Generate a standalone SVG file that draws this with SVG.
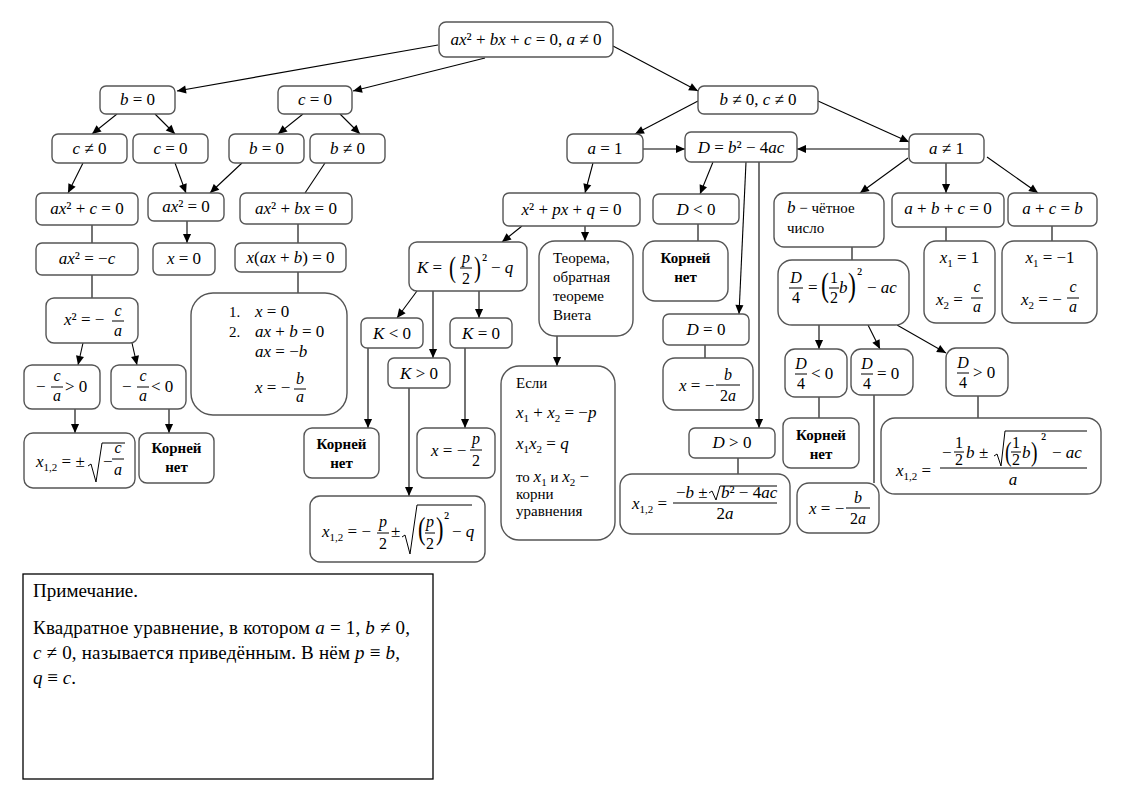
<svg xmlns="http://www.w3.org/2000/svg" width="1126" height="796" viewBox="0 0 1126 796">
<defs>
<marker id="ar" viewBox="0 0 10 10" refX="10" refY="5" markerWidth="10" markerHeight="9" markerUnits="userSpaceOnUse" orient="auto"><path d="M0,0.5 L10,5 L0,9.5 z" fill="#000"/></marker>
<style>
text{font-family:"Liberation Serif","DejaVu Serif",serif;font-size:17px;fill:#000}
.i{font-style:italic}
.m{text-anchor:middle}
.s{font-size:11px}
.f{font-size:16px}
.b{font-weight:bold;font-size:15px}
.t{font-size:15px}
.nt{font-size:19px}
.n rect{fill:#fff;stroke:#555;stroke-width:1.4}
.fb{stroke:#000;stroke-width:1}
.rad{fill:none;stroke:#000;stroke-width:1}
.e line{stroke:#000;stroke-width:1.1;fill:none}
.a{marker-end:url(#ar)}
</style>
</defs>
<rect x="0" y="0" width="1126" height="796" fill="#fff"/>
<g class="e" id="connectors">
<line class="a" x1="438" y1="45" x2="177" y2="91"/>
<line class="a" x1="485" y1="58" x2="353" y2="91"/>
<line class="a" x1="613" y1="46" x2="698" y2="91"/>
<line class="a" x1="117" y1="114" x2="92" y2="134"/>
<line class="a" x1="155" y1="114" x2="175" y2="134"/>
<line class="a" x1="303" y1="114" x2="278" y2="134"/>
<line class="a" x1="340" y1="114" x2="360" y2="134"/>
<line class="a" x1="83" y1="163" x2="68" y2="193"/>
<line class="a" x1="175" y1="163" x2="186" y2="193"/>
<line class="a" x1="242" y1="163" x2="210" y2="193"/>
<line x1="325" y1="163" x2="305" y2="193"/>
<line x1="92" y1="225" x2="92" y2="243"/>
<line class="a" x1="187" y1="221" x2="187" y2="243"/>
<line x1="298" y1="224" x2="298" y2="243"/>
<line x1="92" y1="275" x2="92" y2="298"/>
<line x1="298" y1="272" x2="298" y2="293"/>
<line class="a" x1="83" y1="343" x2="78" y2="365"/>
<line class="a" x1="132" y1="343" x2="137" y2="365"/>
<line class="a" x1="75" y1="409" x2="75" y2="433"/>
<line class="a" x1="169" y1="409" x2="169" y2="433"/>
<line class="a" x1="698" y1="101" x2="635" y2="134"/>
<line class="a" x1="818" y1="101" x2="909" y2="142"/>
<line class="a" x1="643" y1="149" x2="685" y2="149"/>
<line class="a" x1="909" y1="149" x2="797" y2="149"/>
<line class="a" x1="593" y1="163" x2="585" y2="193"/>
<line class="a" x1="713" y1="162" x2="700" y2="194"/>
<line class="a" x1="746" y1="162" x2="739" y2="314"/>
<line class="a" x1="759" y1="162" x2="759" y2="428"/>
<line x1="698" y1="224" x2="698" y2="241"/>
<line x1="705" y1="345" x2="705" y2="358"/>
<line x1="738" y1="458" x2="738" y2="474"/>
<line class="a" x1="522" y1="226" x2="502" y2="242"/>
<line class="a" x1="585" y1="226" x2="585" y2="241"/>
<line class="a" x1="417" y1="291" x2="397" y2="318"/>
<line class="a" x1="433" y1="291" x2="433" y2="358"/>
<line class="a" x1="479" y1="291" x2="479" y2="318"/>
<line class="a" x1="368" y1="348" x2="368" y2="428"/>
<line class="a" x1="465" y1="348" x2="465" y2="428"/>
<line class="a" x1="409" y1="388" x2="409" y2="496"/>
<line class="a" x1="557" y1="336" x2="557" y2="366"/>
<line class="a" x1="908" y1="158" x2="860" y2="193"/>
<line class="a" x1="946" y1="163" x2="946" y2="193"/>
<line class="a" x1="987" y1="157" x2="1038" y2="193"/>
<line x1="852" y1="247" x2="852" y2="260"/>
<line x1="946" y1="227" x2="946" y2="241"/>
<line x1="1052" y1="226" x2="1052" y2="241"/>
<line class="a" x1="819" y1="325" x2="819" y2="349"/>
<line class="a" x1="868" y1="325" x2="880" y2="349"/>
<line class="a" x1="897" y1="325" x2="946" y2="353"/>
<line x1="819" y1="397" x2="819" y2="418"/>
<line x1="874" y1="395" x2="874" y2="483"/>
<line x1="978" y1="396" x2="978" y2="418"/>
</g>

<g class="n" id="n_root"><rect x="439" y="22" width="174" height="35" rx="7"/>
<text x="526" y="45" class="m"><tspan class="i">ax</tspan>² + <tspan class="i">bx</tspan> + <tspan class="i">c</tspan> = 0, <tspan class="i">a</tspan> ≠ 0</text></g>

<g class="n" id="n_b0"><rect x="100" y="86" width="75" height="28" rx="6"/><text x="137.5" y="105" class="m"><tspan class="i">b</tspan> = 0</text></g>
<g class="n" id="n_c0"><rect x="278" y="86" width="74" height="28" rx="6"/><text x="315" y="105" class="m"><tspan class="i">c</tspan> = 0</text></g>
<g class="n" id="n_bc"><rect x="698" y="86" width="120" height="28" rx="6"/><text x="758" y="105" class="m"><tspan class="i">b</tspan> ≠ 0, <tspan class="i">c</tspan> ≠ 0</text></g>

<g class="n" id="n_cn0"><rect x="52" y="134" width="75" height="29" rx="6"/><text x="89.5" y="154" class="m"><tspan class="i">c</tspan> ≠ 0</text></g>
<g class="n" id="n_c02"><rect x="133" y="134" width="75" height="29" rx="6"/><text x="170.5" y="154" class="m"><tspan class="i">c</tspan> = 0</text></g>
<g class="n" id="n_b02"><rect x="229" y="134" width="75" height="29" rx="6"/><text x="266.5" y="154" class="m"><tspan class="i">b</tspan> = 0</text></g>
<g class="n" id="n_bn0"><rect x="310" y="134" width="75" height="29" rx="6"/><text x="347.5" y="154" class="m"><tspan class="i">b</tspan> ≠ 0</text></g>

<g class="n" id="n_axc"><rect x="36" y="193" width="102" height="32" rx="6"/><text x="87" y="214" class="m"><tspan class="i">ax</tspan>² + <tspan class="i">c</tspan> = 0</text></g>
<g class="n" id="n_ax0"><rect x="148" y="193" width="76" height="28" rx="6"/><text x="186" y="212" class="m"><tspan class="i">ax</tspan>² = 0</text></g>
<g class="n" id="n_axbx"><rect x="240" y="193" width="112" height="31" rx="6"/><text x="296" y="214" class="m"><tspan class="i">ax</tspan>² + <tspan class="i">bx</tspan> = 0</text></g>

<g class="n" id="n_axmc"><rect x="36" y="243" width="102" height="32" rx="6"/><text x="87" y="264" class="m"><tspan class="i">ax</tspan>² = −<tspan class="i">c</tspan></text></g>
<g class="n" id="n_x0"><rect x="153" y="243" width="62" height="32" rx="6"/><text x="184" y="264" class="m"><tspan class="i">x</tspan> = 0</text></g>
<g class="n" id="n_xaxb"><rect x="235" y="243" width="111" height="29" rx="6"/><text x="290.5" y="263" class="m"><tspan class="i">x</tspan>(<tspan class="i">ax</tspan> + <tspan class="i">b</tspan>) = 0</text></g>

<g class="n" id="n_x2"><rect x="46" y="298" width="92" height="45" rx="8"/>
<text x="64" y="325"><tspan class="i">x</tspan>² = −</text>
<text x="118" y="316" class="m f i">c</text><line class="fb" x1="112" y1="321" x2="124" y2="321"/><text x="118" y="336" class="m f i">a</text></g>

<g class="n" id="n_list"><rect x="191" y="293" width="156" height="122" rx="22"/>
<text x="229" y="317" class="t">1.</text><text x="255" y="317"><tspan class="i">x</tspan> = 0</text>
<text x="229" y="337" class="t">2.</text><text x="255" y="337"><tspan class="i">ax</tspan> + <tspan class="i">b</tspan> = 0</text>
<text x="255" y="357"><tspan class="i">ax</tspan> = −<tspan class="i">b</tspan></text>
<text x="255" y="393"><tspan class="i">x</tspan> = −</text>
<text x="300" y="384" class="m f i">b</text><line class="fb" x1="294" y1="389" x2="306" y2="389"/><text x="300" y="402" class="m f i">a</text></g>

<g class="n" id="n_cgt"><rect x="24" y="365" width="76" height="44" rx="8"/>
<text x="36" y="392">−</text>
<text x="57" y="381" class="m f i">c</text><line class="fb" x1="51" y1="387" x2="63" y2="387"/><text x="57" y="401" class="m f i">a</text>
<text x="65" y="392">&gt; 0</text></g>

<g class="n" id="n_clt"><rect x="111" y="365" width="75" height="44" rx="8"/>
<text x="122" y="392">−</text>
<text x="143" y="381" class="m f i">c</text><line class="fb" x1="137" y1="387" x2="149" y2="387"/><text x="143" y="401" class="m f i">a</text>
<text x="151" y="392">&lt; 0</text></g>

<g class="n" id="n_x12a"><rect x="24" y="433" width="111" height="55" rx="9"/>
<text x="36" y="467"><tspan class="i">x</tspan><tspan class="s" dy="4">1,2</tspan><tspan dy="-4"> = ±</tspan></text>
<path class="rad" d="M88,466 L91,464 L96,482 L102,443 L125,443"/>
<text x="103" y="467">−</text>
<text x="118" y="453" class="m f i">c</text><line class="fb" x1="112" y1="459" x2="124" y2="459"/><text x="118" y="475" class="m f i">a</text></g>

<g class="n" id="n_kn1"><rect x="139" y="433" width="75" height="50" rx="8"/>
<text x="176.5" y="453" class="m b">Корней</text><text x="176.5" y="472" class="m b">нет</text></g>

<g class="n" id="n_pq"><rect x="503" y="193" width="137" height="33" rx="6"/><text x="571.5" y="215" class="m"><tspan class="i">x</tspan>² + <tspan class="i">px</tspan> + <tspan class="i">q</tspan> = 0</text></g>

<g class="n" id="n_K"><rect x="409" y="242" width="118" height="49" rx="8"/>
<text x="417" y="273"><tspan class="i">K</tspan> =</text>
<text transform="translate(449,277) scale(0.7,1)" style="font-size:30px">(</text>
<text x="466" y="263" class="m f i">p</text><line class="fb" x1="460" y1="268" x2="472" y2="268"/><text x="466" y="284" class="m f">2</text>
<text transform="translate(474,277) scale(0.7,1)" style="font-size:30px">)</text>
<text x="482" y="266">²</text>
<text x="491" y="273">− <tspan class="i">q</tspan></text></g>

<g class="n" id="n_teo"><rect x="539" y="241" width="94" height="95" rx="16"/>
<text x="553" y="263" class="t">Теорема,</text><text x="553" y="282" class="t">обратная</text><text x="553" y="301" class="t">теореме</text><text x="553" y="320" class="t">Виета</text></g>

<g class="n" id="n_Klt"><rect x="361" y="318" width="62" height="30" rx="6"/><text x="392" y="339" class="m"><tspan class="i">K</tspan> &lt; 0</text></g>
<g class="n" id="n_Keq"><rect x="450" y="318" width="62" height="30" rx="6"/><text x="481" y="339" class="m"><tspan class="i">K</tspan> = 0</text></g>
<g class="n" id="n_Kgt"><rect x="388" y="358" width="62" height="30" rx="6"/><text x="419" y="379" class="m"><tspan class="i">K</tspan> &gt; 0</text></g>

<g class="n" id="n_kn2"><rect x="304" y="428" width="75" height="50" rx="8"/>
<text x="341.5" y="449" class="m b">Корней</text><text x="341.5" y="468" class="m b">нет</text></g>

<g class="n" id="n_xp2"><rect x="417" y="428" width="78" height="50" rx="8"/>
<text x="431" y="456"><tspan class="i">x</tspan> = −</text>
<text x="476" y="444" class="m f i">p</text><line class="fb" x1="470" y1="450" x2="482" y2="450"/><text x="476" y="466" class="m f">2</text></g>

<g class="n" id="n_x12p"><rect x="310" y="496" width="175" height="66" rx="10"/>
<text x="322" y="537"><tspan class="i">x</tspan><tspan class="s" dy="4">1,2</tspan><tspan dy="-4"> = −</tspan></text>
<text x="383" y="527" class="m f i">p</text><line class="fb" x1="377" y1="533" x2="389" y2="533"/><text x="383" y="549" class="m f">2</text>
<text x="391" y="537">±</text>
<path class="rad" d="M402,537 L405,535 L410,554 L417,505 L472,505"/>
<text transform="translate(418,539) scale(0.7,1)" style="font-size:32px">(</text>
<text x="430" y="527" class="m f i">p</text><line class="fb" x1="425" y1="533" x2="435" y2="533"/><text x="430" y="549" class="m f">2</text>
<text transform="translate(436,539) scale(0.7,1)" style="font-size:32px">)</text>
<text x="444" y="524">²</text>
<text x="452" y="537">− <tspan class="i">q</tspan></text></g>

<g class="n" id="n_esli"><rect x="501" y="366" width="114" height="174" rx="18"/>
<text x="516" y="388" class="t">Если</text>
<text x="516" y="418"><tspan class="i">x</tspan><tspan class="s" dy="4">1</tspan><tspan dy="-4"> + </tspan><tspan class="i">x</tspan><tspan class="s" dy="4">2</tspan><tspan dy="-4"> = −</tspan><tspan class="i">p</tspan></text>
<text x="516" y="449"><tspan class="i">x</tspan><tspan class="s" dy="4">1</tspan><tspan class="i" dy="-4">x</tspan><tspan class="s" dy="4">2</tspan><tspan dy="-4"> = </tspan><tspan class="i">q</tspan></text>
<text x="516" y="482"><tspan class="t">то </tspan><tspan class="i">x</tspan><tspan class="s" dy="4">1</tspan><tspan class="t" dy="-4"> и  </tspan><tspan class="i">x</tspan><tspan class="s" dy="4">2</tspan><tspan dy="-4"> −</tspan></text>
<text x="516" y="499" class="t">корни</text>
<text x="516" y="516" class="t">уравнения</text></g>

<g class="n" id="n_a1"><rect x="567" y="134" width="76" height="29" rx="6"/><text x="605" y="154" class="m"><tspan class="i">a</tspan> = 1</text></g>
<g class="n" id="n_D"><rect x="685" y="132" width="112" height="30" rx="6"/><text x="741" y="153" class="m"><tspan class="i">D</tspan> = <tspan class="i">b</tspan>² − 4<tspan class="i">ac</tspan></text></g>
<g class="n" id="n_an1"><rect x="909" y="134" width="75" height="29" rx="6"/><text x="946.5" y="154" class="m"><tspan class="i">a</tspan> ≠ 1</text></g>

<g class="n" id="n_Dlt"><rect x="653" y="194" width="86" height="30" rx="6"/><text x="696" y="215" class="m"><tspan class="i">D</tspan> &lt; 0</text></g>
<g class="n" id="n_kn3"><rect x="643" y="241" width="85" height="60" rx="12"/>
<text x="685.5" y="263" class="m b">Корней</text><text x="685.5" y="282" class="m b">нет</text></g>
<g class="n" id="n_D0"><rect x="663" y="314" width="86" height="31" rx="6"/><text x="706" y="335" class="m"><tspan class="i">D</tspan> = 0</text></g>
<g class="n" id="n_xb1"><rect x="663" y="358" width="90" height="52" rx="12"/>
<text x="679" y="391"><tspan class="i">x</tspan> = −</text>
<text x="728" y="380" class="m f i">b</text><line class="fb" x1="716" y1="385" x2="740" y2="385"/><text x="728" y="401" class="m f">2<tspan class="i">a</tspan></text></g>
<g class="n" id="n_Dgt"><rect x="689" y="428" width="86" height="30" rx="6"/><text x="732" y="448" class="m"><tspan class="i">D</tspan> &gt; 0</text></g>

<g class="n" id="n_x12D"><rect x="620" y="474" width="170" height="60" rx="12"/>
<text x="632" y="509"><tspan class="i">x</tspan><tspan class="s" dy="4">1,2</tspan><tspan dy="-4"> =</tspan></text>
<line class="fb" x1="673" y1="503" x2="777" y2="503"/>
<text x="676" y="498">−<tspan class="i">b</tspan> ±</text>
<path class="rad" d="M709,493 L712,491 L716,500 L720,486 L777,486"/>
<text x="721" y="498"><tspan class="i">b</tspan>² − 4<tspan class="i">ac</tspan></text>
<text x="725" y="519" class="m">2<tspan class="i">a</tspan></text></g>

<g class="n" id="n_bch"><rect x="774" y="193" width="110" height="54" rx="10"/>
<text x="787" y="213"><tspan class="i">b</tspan><tspan class="t"> − чётное</tspan></text>
<text x="787" y="233" class="t">число</text></g>
<g class="n" id="n_abc"><rect x="892" y="193" width="112" height="34" rx="6"/><text x="948" y="214" class="m"><tspan class="i">a</tspan> + <tspan class="i">b</tspan> + <tspan class="i">c</tspan> = 0</text></g>
<g class="n" id="n_acb"><rect x="1008" y="193" width="89" height="33" rx="6"/><text x="1052.5" y="214" class="m"><tspan class="i">a</tspan> + <tspan class="i">c</tspan> = <tspan class="i">b</tspan></text></g>

<g class="n" id="n_D4"><rect x="778" y="260" width="131" height="65" rx="14"/>
<text x="796" y="283" class="m f i">D</text><line class="fb" x1="789" y1="288" x2="803" y2="288"/><text x="796" y="303" class="m f">4</text>
<text x="808" y="293">=</text>
<text transform="translate(821,296) scale(0.7,1)" style="font-size:34px">(</text>
<text x="834" y="283" class="m f">1</text><line class="fb" x1="829" y1="288" x2="839" y2="288"/><text x="834" y="303" class="m f">2</text>
<text x="839" y="293" class="i">b</text>
<text transform="translate(848,296) scale(0.7,1)" style="font-size:34px">)</text>
<text x="857" y="280">²</text>
<text x="867" y="293">− <tspan class="i">ac</tspan></text></g>

<g class="n" id="n_x1"><rect x="924" y="241" width="71" height="82" rx="12"/>
<text x="959.5" y="263" class="m"><tspan class="i">x</tspan><tspan class="s" dy="4">1</tspan><tspan dy="-4"> = 1</tspan></text>
<text x="936" y="305"><tspan class="i">x</tspan><tspan class="s" dy="4">2</tspan><tspan dy="-4"> =</tspan></text>
<text x="977" y="292" class="m f i">c</text><line class="fb" x1="971" y1="298" x2="983" y2="298"/><text x="977" y="312" class="m f i">a</text></g>

<g class="n" id="n_xm1"><rect x="1002" y="241" width="95" height="82" rx="12"/>
<text x="1050" y="263" class="m"><tspan class="i">x</tspan><tspan class="s" dy="4">1</tspan><tspan dy="-4"> = −1</tspan></text>
<text x="1021" y="305"><tspan class="i">x</tspan><tspan class="s" dy="4">2</tspan><tspan dy="-4"> = −</tspan></text>
<text x="1073" y="292" class="m f i">c</text><line class="fb" x1="1067" y1="298" x2="1079" y2="298"/><text x="1073" y="312" class="m f i">a</text></g>

<g class="n" id="n_D4lt"><rect x="785" y="349" width="62" height="48" rx="10"/>
<text x="801" y="369" class="m f i">D</text><line class="fb" x1="795" y1="374" x2="807" y2="374"/><text x="801" y="389" class="m f">4</text>
<text x="811" y="379">&lt; 0</text></g>
<g class="n" id="n_D4eq"><rect x="851" y="349" width="62" height="46" rx="10"/>
<text x="867" y="369" class="m f i">D</text><line class="fb" x1="861" y1="374" x2="873" y2="374"/><text x="867" y="389" class="m f">4</text>
<text x="877" y="379">= 0</text></g>
<g class="n" id="n_D4gt"><rect x="946" y="348" width="62" height="48" rx="10"/>
<text x="963" y="368" class="m f i">D</text><line class="fb" x1="957" y1="373" x2="969" y2="373"/><text x="963" y="388" class="m f">4</text>
<text x="973" y="378">&gt; 0</text></g>

<g class="n" id="n_kn4"><rect x="783" y="418" width="76" height="50" rx="8"/>
<text x="821" y="440" class="m b">Корней</text><text x="821" y="459" class="m b">нет</text></g>
<g class="n" id="n_xb2"><rect x="797" y="483" width="82" height="50" rx="12"/>
<text x="809" y="514"><tspan class="i">x</tspan> = −</text>
<text x="858" y="503" class="m f i">b</text><line class="fb" x1="846" y1="508" x2="870" y2="508"/><text x="858" y="524" class="m f">2<tspan class="i">a</tspan></text></g>

<g class="n" id="n_x12b"><rect x="881" y="418" width="220" height="76" rx="14"/>
<text x="896" y="476"><tspan class="i">x</tspan><tspan class="s" dy="4">1,2</tspan><tspan dy="-4"> =</tspan></text>
<line class="fb" x1="940" y1="468" x2="1087" y2="468"/>
<text x="942" y="458">−</text>
<text x="959" y="448" class="m f">1</text><line class="fb" x1="954" y1="452" x2="964" y2="452"/><text x="959" y="465" class="m f">2</text>
<text x="966" y="458" class="i">b</text>
<text x="979" y="458">±</text>
<path class="rad" d="M994,456 L997,454 L1001,466 L1005,431 L1087,431"/>
<text transform="translate(1005,461) scale(0.7,1)" style="font-size:28px">(</text>
<text x="1016" y="448" class="m f">1</text><line class="fb" x1="1011" y1="452" x2="1021" y2="452"/><text x="1016" y="465" class="m f">2</text>
<text x="1022" y="458" class="i">b</text>
<text transform="translate(1031,461) scale(0.7,1)" style="font-size:28px">)</text>
<text x="1041" y="445">²</text>
<text x="1052" y="458">− <tspan class="i">ac</tspan></text>
<text x="1013" y="485" class="m i">a</text></g>

<g id="note"><rect x="23" y="574" width="410" height="205" fill="#fff" stroke="#000" stroke-width="1.3"/>
<text x="33" y="597" class="nt" textLength="105" lengthAdjust="spacing">Примечание.</text>
<text x="33" y="634" class="nt" textLength="377" lengthAdjust="spacing">Квадратное уравнение, в котором <tspan class="i">a</tspan> = 1, <tspan class="i">b</tspan> ≠ 0,</text>
<text x="33" y="659" class="nt" textLength="367" lengthAdjust="spacing"><tspan class="i">c</tspan> ≠ 0, называется приведённым. В нём <tspan class="i">p</tspan> ≡ <tspan class="i">b</tspan>,</text>
<text x="33" y="684" class="nt"><tspan class="i">q</tspan> ≡ <tspan class="i">c</tspan>.</text></g>
</svg>
